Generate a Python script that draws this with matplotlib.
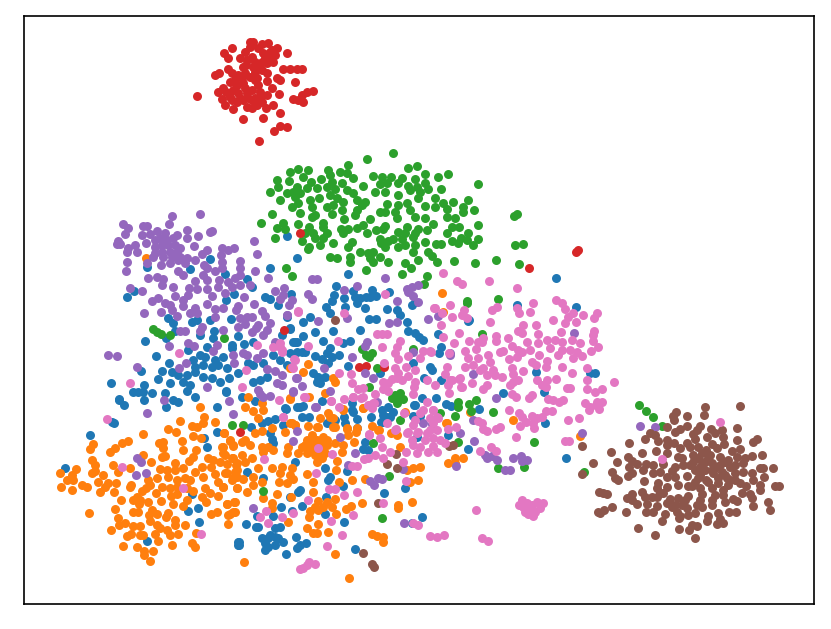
import matplotlib
matplotlib.use('Agg')
import matplotlib.pyplot as plt

# Embedding coordinates, one list per class
blue = [(147,267),(190,269),(210,259),(225,274),(247,279),(252,287),(270,268),(297,258),(287,236),(127,297),(134,291),(226,300),(234,294),(265,297),(270,299),(278,305),(291,294),(168,318),(173,323),(175,331),(210,320),(192,322),(197,320),(231,319),(214,331),(213,338),(200,335),(166,338),(145,341),(207,347),(238,336),(244,344),(232,345),(232,348),(188,350),(156,356),(200,355),(205,357),(193,360),(223,357),(215,360),(141,371),(169,363),(162,371),(195,367),(203,365),(212,367),(218,365),(227,368),(172,372),(178,375),(187,375),(195,372),(203,377),(212,378),(220,382),(229,378),(158,379),(170,383),(183,382),(190,385),(187,391),(111,383),(144,385),(133,392),(138,392),(143,392),(152,393),(119,399),(165,393),(195,397),(226,391),(253,382),(260,380),(267,377),(248,363),(253,365),(263,363),(238,373),(273,355),(290,353),(295,342),(290,329),(282,335),(253,342),(287,317),
        (348,274),(336,286),(334,295),(332,301),(326,307),(330,313),(344,298),(345,307),(353,291),(355,297),(357,303),(365,308),(360,298),(366,297),(372,290),(370,297),(376,296),(389,292),(387,309),(397,310),(400,315),(407,322),(412,305),(415,302),(408,331),(415,333),(419,337),(423,340),(369,319),(376,319),(360,330),(333,331),(315,332),(303,322),(310,317),(303,336),(323,341),(350,341),(343,343),(293,342),(297,342),(330,348),(327,353),(297,352),(302,352),(305,352),(280,360),(315,356),(322,359),(328,363),(332,357),(339,355),(348,366),(313,373),(318,377),(320,383),(325,377),(317,382),(287,365),(290,328),(380,373),(413,363),(432,370),(424,378),(441,347),(439,353),(441,380),(430,367),(469,320),(285,408),(300,407),(303,406),(302,417),(309,417),(357,419),(371,417),(352,403),(353,412),(388,407),(393,412),(383,415),(390,417),(381,422),(413,416),(414,405),(422,398),(420,416),
        (556,278),(576,307),(517,305),(468,321),(438,334),(536,372),(590,373),(595,373),(544,392),(503,393),(436,398),(446,404),(451,406),(479,409),(545,423),(448,435),(468,449),(566,458),
        (119,400),(124,405),(144,400),(166,407),(173,400),(178,402),(217,407),(90,435),(65,468),(112,422),(114,423),(204,438),(207,447),(217,432),(192,494),(188,511),(198,508),(199,522),(147,541),(238,542),(238,545),
        (226,392),(242,397),(255,401),(297,407),(286,409),(322,401),(327,423),(335,420),(251,427),(262,423),(268,421),(275,419),(270,433),(272,439),(273,443),(283,425),(352,410),(345,423),(344,417),(357,428),(365,442),(363,449),(368,450),(382,410),(387,417),(383,422),(415,405),(417,437),(295,462),(325,468),(247,472),(263,478),(330,477),(328,480),(347,471),(343,486),(384,493),(326,497),(298,492),(300,490),(290,497),(302,506),(273,516),(257,516),(246,524),(256,527),(258,527),(281,507),(292,511),(344,522),(325,514),(405,488),(412,523),(422,517),(355,549),(286,554),(306,543),(300,545),(297,548),(296,537),(280,527),(275,528),(270,535),(262,538),(268,538),(275,537),(283,542),(278,538),(265,543),(275,545),(265,550),(268,547),(239,542),(239,545)]

orange = [(60,473),(67,480),(61,487),(72,475),(76,469),(73,480),(72,490),(82,485),(87,487),(92,473),(95,471),(95,465),(92,460),(90,449),(93,444),(110,452),(115,448),(122,443),(128,441),(103,475),(98,482),(105,487),(100,492),(108,483),(116,483),(114,492),(113,465),(118,472),(130,468),(143,434),(143,455),(151,462),(168,429),(176,432),(159,443),(163,442),(163,448),(162,457),(165,456),(182,441),(183,450),(180,421),(192,426),(197,427),(203,423),(204,417),(215,422),(193,436),(201,438),(224,433),(230,441),(233,446),(222,447),(225,455),(200,407),(196,450),(193,457),(189,461),(208,458),(213,460),(220,462),(232,458),(237,463),(211,467),(227,473),(237,470),(232,480),(237,477),(215,474),(218,482),(223,487),(237,488),(202,467),(203,477),(195,472),(185,478),(190,480),(160,469),(167,470),(175,463),(183,468),(175,470),(168,477),(177,480),(157,478),(148,480),(130,487),(131,485),(142,491),(150,485),(146,488),(162,487),(170,488),(177,487),(187,488),(193,491),(205,488),(210,493),(218,496),(156,493),(171,496),(177,494),(121,500),(133,500),(137,497),(140,500),(148,502),(161,501),(173,504),(183,506),(187,500),(202,497),(206,502),(115,509),(139,504),(89,513),(133,512),(138,512),(152,510),(149,515),(157,514),(168,513),(166,517),(150,521),(175,520),(211,514),(217,512),(227,504),(235,502),(230,514),(235,512),(118,518),(119,525),(125,523),(133,526),(140,526),(157,525),(160,528),(167,530),(175,525),(185,525),(170,535),(178,534),(228,524),(111,530),(127,536),(131,534),(140,535),(143,535),(155,534),(158,541),(196,533),(123,546),(137,547),(172,545),(192,543),(195,547),(144,551),(144,555),(153,551),(150,561),
          (248,397),(245,407),(253,411),(262,403),(263,410),(258,418),(290,398),(224,433),(230,440),(233,445),(223,447),(245,440),(250,445),(242,442),(255,433),(262,431),(272,428),(262,447),(263,452),(268,447),(273,450),(288,447),(287,453),(292,423),(285,432),(295,425),(308,426),(318,427),(307,440),(312,435),(317,440),(323,437),(302,447),(310,447),(320,450),(327,445),(298,453),(307,453),(315,455),(325,453),(335,443),(343,445),(342,452),(337,461),(317,462),(322,458),(223,453),(233,458),(242,455),(252,458),(227,464),(236,465),(245,462),(235,472),(225,473),(233,478),(243,479),(258,468),(272,468),(282,467),(292,468),(280,473),(290,475),(307,474),(279,482),(287,483),(293,479),(253,477),(262,482),(253,485),(313,482),(336,470),(339,482),(352,480),(365,479),(223,487),(237,488),(247,492),(263,498),(277,494),(291,497),(313,492),(227,504),(234,502),(228,515),(233,512),(272,503),(272,508),(288,522),(309,517),(310,511),(315,507),(318,501),(318,510),(323,507),(327,502),(335,499),(332,507),(336,514),(346,509),(351,506),(362,503),(398,505),(398,508),(412,502),(307,528),(313,533),(318,524),(317,533),(328,532),(335,554),(244,562),(349,578),(372,534),(377,536),(383,537),(383,542),(407,470),(413,468),(420,467),(410,482),(418,480),(357,428),(356,432),(347,428),(348,435),(335,427),(379,430),(397,435),(400,447),(354,442),(330,417),(343,410),(363,408),
          (305,445),(312,450),(317,445),(322,443),(327,440),(313,440),(308,452),(318,458),(323,448),
          (442,293),(303,372),(308,364),(290,368),(333,378),(335,382),(325,393),(290,399),(309,397),(343,409),(363,408),(320,418),(328,413),(333,418),(290,423),(295,425),(317,427),(333,427),(347,429),(372,426),(378,430),(391,433),(405,412),(447,423),(443,312),(513,420),(470,412),(446,423),(580,436),(463,458),(455,458),(448,463),(455,463),(146,258)]

green = [(393,153),(367,159),(298,169),(308,170),(290,172),(328,170),(348,165),(340,172),(408,168),(417,166),(448,174),(438,177),(425,174),(373,176),(382,177),(391,177),(402,178),(415,179),(353,178),(330,175),(277,180),(289,181),(303,177),(311,182),(321,179),(332,182),(347,173),(342,183),(363,186),(380,184),(387,183),(398,183),(408,186),(425,183),(478,184),(441,189),(428,189),(417,187),(270,192),(278,187),(287,193),(297,187),(293,192),(300,193),(307,188),(317,188),(327,187),(335,189),(347,190),(353,193),(375,192),(385,192),(398,195),(410,190),(420,192),(280,200),(292,207),(298,203),(295,197),(310,200),(319,198),(330,195),(337,198),(333,205),(343,202),(357,200),(365,202),(387,204),(398,205),(407,203),(418,198),(435,198),(425,206),(443,203),(453,202),(468,200),(463,207),(474,210),(435,207),(447,209),(312,207),(327,207),(342,210),(357,210),(362,205),(300,213),(272,214),(315,215),(312,217),(332,214),(355,215),(380,212),(385,212),(395,212),(397,218),(410,210),(415,217),(425,218),(447,217),(463,212),(455,218),(261,223),(283,223),(298,224),(323,223),(344,219),(370,219),(433,224),(452,227),(459,227),(478,225),(277,228),(285,229),(309,227),(323,227),(341,229),(348,229),(357,228),(363,225),(376,230),(385,226),(383,229),(398,232),(407,227),(418,229),(427,230),(447,233),(305,233),(313,233),(327,233),(343,233),(367,233),(405,233),(415,233),(275,238),(302,241),(315,238),(323,238),(333,243),(352,242),(380,239),(393,239),(388,241),(402,239),(413,237),(425,242),(452,241),(461,238),(468,233),(467,240),(478,239),(309,247),(320,245),(348,247),(385,247),(381,243),(398,247),(405,245),(415,245),(436,244),(441,244),(458,243),(473,245),(308,249),(330,257),(337,258),(350,257),(350,262),(360,252),(368,253),(373,252),(370,258),(373,262),(380,257),(388,262),(413,252),(428,252),(432,256),(418,260),(437,262),(454,261),(475,263),(496,260),(405,263),(411,268),(366,270),(402,274),(427,276),(286,268),(292,276),
         (517,214),(514,216),(515,245),(523,244),(519,264),
         (153,329),(157,332),(161,334),(170,335),(224,338),(467,301),(467,303),(498,299),(482,334),(476,400),(458,402),(458,407),(469,404),(471,411),(455,416),(493,412),(440,413),(458,442),(534,442),(498,468),(524,467),
         (424,284),(362,349),(366,355),(372,353),(369,357),(377,368),(369,387),(397,398),(392,398),(395,395),(400,393),(403,399),(397,403),(398,398),(400,420),(413,349),(232,425),(243,425),(263,491),(373,443),(389,476),(382,518),(639,405),(646,411),(653,417),(662,426),(584,472)]

red = [(197,96),(215,75),(219,73),(218,92),(223,88),(222,99),(225,105),(233,109),(243,119),(263,118),(259,141),(274,131),(280,126),(287,127),(280,113),(273,105),(279,94),(272,88),(295,82),(293,99),(298,100),(303,102),(302,95),(307,92),(313,91),(283,69),(290,69),(297,69),(302,69),(287,53),(280,80),(277,78),(267,73),(267,81),(257,78),(224,53),(228,58),(232,48),(250,47),(253,42),(262,44),(268,43),(277,48),(275,55),(273,62),(267,63),(263,53),(265,58),(247,60),(252,57),(240,58),(243,67),(253,67),(260,68),(245,73),(250,77),(228,69),(232,73),(230,82),(237,85),(243,83),(233,90),(238,93),(230,97),(237,102),(247,93),(252,90),(258,85),(260,92),(255,98),(247,107),(252,108),(262,102),(266,108),(267,95),(257,105),(248,98),
       (245,52),(258,48),(270,52),(262,62),(255,62),(246,65),(238,75),(242,78),(255,72),(262,70),(235,80),(245,88),(255,80),(240,98),(252,100),(243,100),(268,58),(272,50),(250,42),(226,92),(232,100),(260,98),
       (300,233),(284,330),(359,367),(366,366),(384,367),(240,432),(529,268),(576,252),(578,250)]

purple = [(172,216),(200,214),(169,224),(123,224),(128,228),(125,234),(143,226),(147,226),(142,235),(150,234),(157,231),(165,233),(177,235),(187,230),(187,238),(198,236),(212,231),(210,232),(194,246),(118,241),(117,244),(120,244),(135,245),(128,248),(127,252),(137,252),(146,243),(155,240),(160,238),(167,240),(173,238),(155,247),(162,245),(168,245),(175,245),(180,248),(155,253),(162,252),(170,252),(177,252),(153,257),(163,257),(172,257),(180,257),(187,258),(195,260),(202,254),(207,250),(222,248),(228,250),(234,248),(221,255),(222,262),(240,261),(254,241),(257,254),(127,262),(126,271),(147,263),(161,265),(170,263),(178,260),(185,263),(204,265),(207,268),(215,271),(222,268),(240,268),(255,271),(178,271),(183,275),(148,278),(157,277),(163,279),(162,285),(203,275),(207,280),(219,280),(228,282),(235,278),(240,275),(195,281),(268,278),(173,287),(189,288),(197,289),(218,287),(225,293),(232,287),(240,285),(250,285),(130,288),(142,291),(207,289),(212,296),(188,295),(175,296),(244,297),(152,301),(158,298),(165,303),(183,300),(170,305),(183,306),(207,304),(275,291),(284,288),(283,295),(280,299),(292,300),(289,305),(254,304),(238,306),(236,310),(215,309),(223,308),(195,308),(144,313),(161,312),(172,310),(177,316),(190,313),(215,317),(197,313),(240,318),(247,317),(252,317),(262,311),(265,316),(270,323),(287,315),(238,327),(245,324),(258,325),(252,332),(256,328),(267,330),(263,335),(202,327),(200,331),(180,331),(185,331),(223,330),(188,343),(194,346),(169,346),(217,345),(213,351),(275,342),(108,355),(117,356),(233,355),(243,353),(247,355),(263,353),(257,358),(234,363),(186,363),(179,368),(137,367),(267,369),(275,371),(282,375),(277,383),(282,385),(296,378),(293,391),(207,387),(258,390),(263,397),
          (312,279),(317,279),(357,286),(385,278),(344,290),(308,294),(312,299),(287,315),(347,318),(318,321),(397,301),(407,289),(412,287),(418,285),(408,292),(413,296),(418,302),(428,319),(389,323),(397,322),(438,316),(367,342),(365,346),(352,357),(324,368),(365,373),(373,378),(297,378),(302,386),(293,392),(330,391),(315,407),(377,402),(413,352),(450,353),(473,374),(460,433),(432,424),(423,423),(297,431),(340,437),
          (496,398),(574,333),(473,420),(474,441),(582,433),(485,455),(487,458),(492,456),(497,460),(513,458),(521,456),(522,461),(527,460),(456,466),(505,470),(510,470),(450,355),
          (147,413),(164,400),(137,458),(141,462),(136,475),(146,473),(233,414),(229,401),(260,394),(270,396),(293,441),(316,407),(355,453),(348,465),(253,508),(370,481),(374,485),(378,478),(382,479),(403,469),(404,523),(376,402),(640,426),(655,427)]

brown = [(705,407),(704,415),(740,406),(676,412),(673,416),(687,416),(674,420),(667,427),(687,426),(680,429),(675,432),(700,426),(697,430),(711,429),(722,430),(737,428),(693,434),(695,439),(707,437),(715,433),(723,437),(737,440),(757,439),(753,442),(650,433),(645,439),(655,435),(658,441),(667,440),(667,445),(674,443),(629,443),(687,443),(712,444),(724,444),(611,452),(642,453),(656,451),(667,453),(680,448),(690,447),(698,447),(706,450),(717,448),(732,451),(740,449),(762,455),(628,457),(632,461),(617,462),(593,463),(637,464),(646,464),(653,465),(663,464),(678,457),(682,458),(693,455),(702,453),(710,455),(720,457),(728,460),(737,457),(745,458),(752,456),(743,463),(693,462),(702,462),(712,463),(720,465),(730,467),(675,467),(683,465),(629,467),(643,470),(672,471),(695,470),(705,470),(713,473),(722,472),(735,473),(743,472),(752,473),(760,468),(763,468),(773,468),(612,472),(632,473),(653,473),(660,472),(628,476),(615,478),(618,480),(667,477),(675,477),(687,476),(698,478),(727,478),(735,480),(764,477),(753,480),(644,481),(658,483),(678,485),(688,486),(692,486),(708,482),(718,483),(728,485),(740,483),(746,486),(760,485),(760,490),(775,486),(779,486),(657,488),(667,487),(700,488),(712,488),(723,490),(663,493),(599,492),(603,493),(607,494),(642,492),(660,493),(702,494),(742,493),(750,494),(632,494),(645,497),(652,497),(657,497),(688,496),(715,495),(723,495),(627,498),(632,500),(670,499),(678,498),(685,500),(700,500),(712,500),(733,499),(737,501),(752,498),(637,504),(647,504),(667,503),(675,505),(682,505),(697,505),(712,505),(725,502),(768,502),(612,507),(657,506),(672,507),(687,508),(702,507),(753,506),(604,510),(598,512),(600,513),(626,512),(646,512),(653,512),(677,512),(695,513),(729,512),(736,512),(770,510),(665,514),(680,516),(688,515),(718,513),(708,516),(662,521),(679,518),(707,521),(720,519),(717,524),(723,523),(692,525),(697,526),(638,528),(679,529),(689,530),(655,535),(695,538),
         (690,465),(698,458),(705,462),(708,458),(715,468),(700,475),(695,482),(725,475),(730,480),(718,478),(706,480),(735,465),(725,462),(712,470),(700,467),
         (582,446),(582,474),(378,503),(363,553),(372,564),(374,567),(396,454),(387,464),(397,468),(335,320),(449,446),(453,445)]

pink = [(443,273),(457,281),(462,284),(489,281),(517,288),(533,303),(556,300),(562,303),(450,305),(435,308),(442,313),(452,317),(464,310),(462,315),(467,318),(492,310),(497,307),(517,308),(519,313),(530,312),(565,309),(573,313),(568,317),(583,315),(597,313),(594,318),(553,320),(565,323),(576,322),(490,322),(441,325),(523,325),(536,325),(518,331),(522,333),(459,333),(443,337),(561,332),(594,331),(593,335),(538,334),(496,336),(496,341),(508,338),(483,338),(482,342),(478,342),(469,341),(454,343),(547,340),(555,340),(562,342),(572,340),(580,343),(593,341),(527,342),(538,343),(530,350),(476,349),(465,351),(512,346),(518,350),(522,352),(550,348),(558,355),(562,350),(570,350),(577,352),(573,358),(582,356),(591,351),(598,347),(449,353),(431,352),(500,352),(503,351),(488,355),(539,355),(509,359),(517,357),(468,358),(478,358),(547,361),(532,362),(536,365),(546,367),(562,367),(465,367),(473,365),(483,368),(490,362),(512,368),(523,371),(587,368),(572,373),(447,367),(445,374),(487,375),(480,370),(493,370),(495,375),(502,377),(513,374),(518,380),(537,380),(547,380),(556,379),(587,380),(614,382),(452,380),(459,379),(448,385),(435,385),(472,383),(461,387),(487,385),(483,389),(510,385),(513,382),(542,385),(546,387),(567,388),(570,388),(587,389),(595,392),(602,389),(449,393),(512,394),(516,397),(532,395),(529,398),(548,399),(553,400),(563,400),(559,402),(585,403),(590,407),(597,402),(602,402),(596,405),(589,410),(599,409),(509,410),(519,413),(546,411),(552,411),(522,417),(532,416),(542,417),(537,418),(579,418),(568,420),(526,422),(478,421),(482,423),(520,426),(533,423),(534,428),(500,427),(496,429),(483,429),(487,431),(456,427),(448,429),(516,437),(565,441),(569,441),(491,447),(496,451),(480,451),(433,446),(437,452),(433,423),(437,417),(438,418),(433,410),(430,430),(433,438),
        (425,440),(437,430),(430,418),(415,420),(445,443),(412,440),(420,447),(428,452),(440,440),
        (519,505),(523,507),(527,503),(532,505),(537,502),(543,503),(530,510),(535,512),(525,512),(540,508),(533,516),(522,500),(528,514),(662,459),(720,422),
        (385,294),(434,308),(298,311),(344,313),(382,334),(377,334),(387,334),(338,341),(382,347),(308,346),(400,341),(397,347),(395,353),(398,359),(408,356),(423,351),(430,351),(420,358),(415,370),(384,363),(406,367),(395,368),(398,373),(408,376),(392,379),(397,378),(402,380),(383,382),(388,383),(415,382),(414,387),(427,380),(450,380),(460,378),(462,387),(383,389),(388,391),(413,394),(375,394),(363,388),(358,389),(353,397),(361,398),(344,399),(331,401),(305,397),(352,383),(339,373),(351,374),(280,347),(282,352),(294,359),(292,367),(373,403),(368,405),(372,408),(339,407),(404,413),(427,402),(433,410),(423,410),(420,413),(395,430),(387,423),(369,434),(407,433),(413,425),(427,433),(418,432),(283,417),
        (179,353),(130,383),(257,345),(273,347),(280,343),(282,350),(298,312),(242,387),(246,370),(293,368),(295,360),(107,419),(122,467),(183,488),(201,534),
        (279,400),(283,417),(304,397),(331,401),(353,397),(363,397),(370,405),(374,403),(369,435),(318,448),(332,454),(264,459),(316,473),(396,429),(408,432),(417,433),(380,438),(382,447),(390,452),(375,455),(368,458),(364,459),(383,458),(406,452),(417,453),(413,445),(403,462),(352,466),(357,466),(406,481),(329,489),(335,489),(357,492),(344,495),(308,500),(383,503),(353,515),(260,517),(266,511),(282,517),(293,513),(268,523),(331,521),(342,535),(327,546),(300,569),(303,568),(309,562),(315,564),(307,565),(413,523),(418,525),(430,536),(437,537),(444,535),(476,510),(482,538),(488,541)]

classes = [(blue, '#1f77b4'), (orange, '#ff7f0e'), (green, '#2ca02c'), (red, '#d62728'),
           (purple, '#9467bd'), (brown, '#8c564b'), (pink, '#e377c2')]

fig = plt.figure(figsize=(8.31, 6.29), dpi=100)
ax = fig.add_axes([24 / 831, 1 - 604 / 629, 790 / 831, 588 / 629])

for pts, col in classes:
    xs, ys = zip(*pts)
    ax.scatter(xs, ys, s=42, color=col, linewidths=0)

ax.set_xlim(24, 814)
ax.set_ylim(604, 16)
ax.set_xticks([])
ax.set_yticks([])
for sp in ax.spines.values():
    sp.set_linewidth(1.2)

fig.savefig('out.png', dpi=100)
